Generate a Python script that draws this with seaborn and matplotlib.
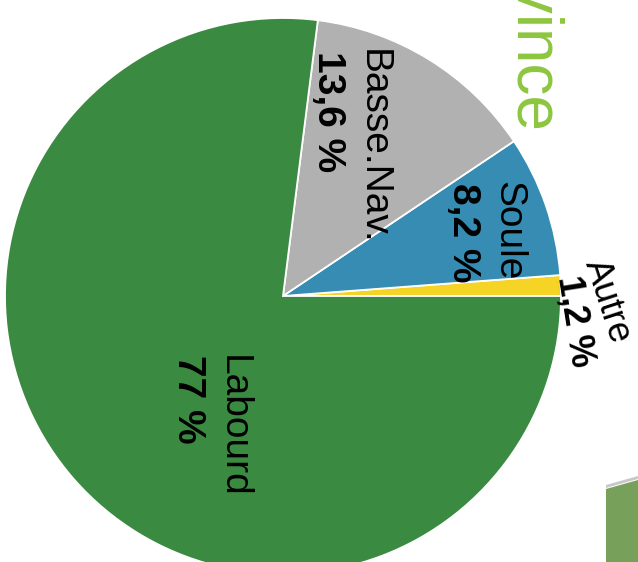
import seaborn as sns
import matplotlib.pyplot as plt
from matplotlib.patches import Polygon

provinces = ["Autre", "Soule", "Basse.Nav.", "Labourd"]
shares = [1.2, 8.2, 13.6, 77]
pct_labels = ["1,2 %", "8,2 %", "13,6 %", "77 %"]

sns.set_theme(style="white")
plt.rcParams['font.family'] = ['Liberation Sans', 'DejaVu Sans']

W, H = 638, 562
colors = ["#f5d425", "#368cb3", "#b1b1b1", "#3a8b41"]

# label anchors in pixels (x, y from top): name line, percent line, rotations
label_pos = {
    "Autre": ((585, 263, -72), (558, 277, -81), 26),
    "Soule": ((498, 181, -90), (453, 183, -90), 28),
    "Basse.Nav.": ((363, 49, -90), (318, 51, -90), 28),
    "Labourd": ((223, 355, -90), (178, 355, -90), 28),
}

fig = plt.figure(figsize=(W / 100, H / 100), dpi=100)
ax = fig.add_axes([0, 0, 1, 1])
ax.pie(shares, colors=colors, startangle=0, counterclock=True,
       radius=278, center=(283, H - 296),
       wedgeprops=dict(edgecolor="white", linewidth=1.3))
ax.set_xlim(0, W)
ax.set_ylim(0, H)
ax.set_aspect("equal")
ax.set_axis_off()

for name, pct in zip(provinces, pct_labels):
    (nx, ny, nr), (px, py, pr), fs = label_pos[name]
    ax.text(nx, H - ny, name, rotation=nr, rotation_mode="anchor",
            ha="left", va="baseline", fontsize=fs, color="black")
    ax.text(px, H - py, pct, rotation=pr, rotation_mode="anchor",
            ha="left", va="baseline", fontsize=fs, fontweight="bold", color="black")

# title, mostly cut off at the top
ax.text(517, H - 130, "Répartition par province", rotation=-90, rotation_mode="anchor",
        ha="right", va="baseline", fontsize=46, color="#8dc63f")

# piece of another chart in the lower right corner
ax.add_patch(Polygon([(606, H - 485), (638, H - 476), (638, H - 479), (606, H - 488)],
                     closed=True, facecolor="#c8c8c8", edgecolor="none"))
ax.add_patch(Polygon([(606, H - 489), (638, H - 480), (638, 0), (606, 0)],
                     closed=True, facecolor="#77a05a", edgecolor="none"))

fig.savefig("out.png", dpi=100)
